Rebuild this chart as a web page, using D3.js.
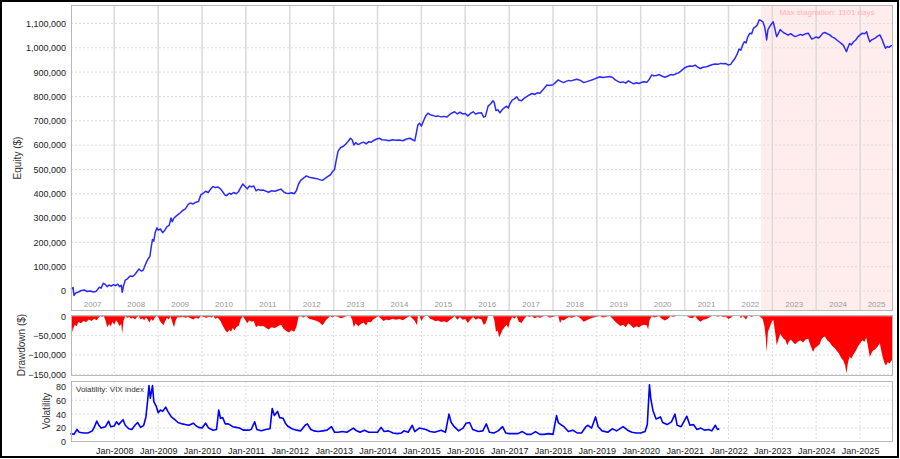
<!DOCTYPE html>
<html><head><meta charset="utf-8">
<script src="https://cdn.jsdelivr.net/npm/d3@7"></script>
<style>
html,body{margin:0;padding:0;background:#fff;}
svg{display:block;font-family:"Liberation Sans",Arial,sans-serif;}
</style></head>
<body><svg id="c" width="900" height="459"></svg>
<script>
// ---------- DATA (time in decimal years, money in thousands of $) ----------
const equityK = [
[2007.01,12],[2007.04,10],[2007.06,14],[2007.08,-18],[2007.12,-8],[2007.18,-4],[2007.25,2],[2007.32,4],[2007.38,-2],[2007.45,0],
[2007.52,-4],[2007.58,-2],[2007.62,6],[2007.66,16],[2007.70,12],[2007.75,32],[2007.80,26],[2007.84,18],[2007.88,25],[2007.93,20],
[2007.98,26],[2008.03,22],[2008.08,28],[2008.12,18],[2008.16,24],[2008.18,-5],[2008.21,20],[2008.25,45],[2008.30,50],[2008.36,62],
[2008.42,60],[2008.47,68],[2008.52,80],[2008.56,90],[2008.62,82],[2008.66,86],[2008.70,105],[2008.74,122],[2008.78,135],[2008.81,142],
[2008.84,180],[2008.87,212],[2008.90,205],[2008.93,240],[2008.97,260],[2009.00,250],[2009.05,255],[2009.10,240],[2009.15,250],[2009.20,265],
[2009.25,270],[2009.29,300],[2009.32,285],[2009.36,300],[2009.42,310],[2009.48,318],[2009.55,330],[2009.62,338],[2009.68,355],[2009.73,362],
[2009.80,358],[2009.86,365],[2009.92,368],[2009.97,395],[2010.03,402],[2010.08,410],[2010.14,405],[2010.20,420],[2010.25,430],[2010.30,425],
[2010.36,428],[2010.42,420],[2010.47,408],[2010.52,395],[2010.56,392],[2010.62,402],[2010.67,398],[2010.72,405],[2010.78,400],[2010.83,408],
[2010.88,425],[2010.93,440],[2010.98,430],[2011.03,420],[2011.08,432],[2011.13,428],[2011.18,432],[2011.23,412],[2011.28,418],[2011.33,414],
[2011.40,415],[2011.46,410],[2011.52,406],[2011.58,412],[2011.66,410],[2011.74,415],[2011.80,419],[2011.86,408],[2011.92,402],[2011.98,401],
[2012.04,404],[2012.10,400],[2012.15,412],[2012.20,440],[2012.25,455],[2012.32,465],[2012.38,473],[2012.44,468],[2012.50,466],[2012.56,464],
[2012.62,462],[2012.68,458],[2012.74,455],[2012.80,462],[2012.86,470],[2012.92,477],[2012.97,490],[2013.02,500],[2013.06,540],[2013.10,575],
[2013.16,590],[2013.22,595],[2013.28,605],[2013.34,618],[2013.38,628],[2013.42,622],[2013.46,600],[2013.50,610],[2013.56,602],[2013.62,608],
[2013.68,612],[2013.74,605],[2013.80,614],[2013.86,612],[2013.92,620],[2013.98,625],[2014.04,628],[2014.10,622],[2014.18,621],[2014.26,618],
[2014.34,622],[2014.42,620],[2014.50,621],[2014.58,618],[2014.66,625],[2014.74,628],[2014.80,622],[2014.85,617],[2014.88,645],[2014.92,683],
[2014.96,690],[2015.00,678],[2015.05,700],[2015.10,720],[2015.15,731],[2015.20,725],[2015.26,722],[2015.32,718],[2015.38,720],[2015.45,716],
[2015.52,718],[2015.58,715],[2015.64,725],[2015.70,732],[2015.76,737],[2015.82,728],[2015.88,735],[2015.94,728],[2016.00,730],[2016.06,720],
[2016.12,730],[2016.18,737],[2016.24,728],[2016.30,732],[2016.37,733],[2016.42,715],[2016.46,718],[2016.52,760],[2016.58,770],[2016.63,782],
[2016.66,775],[2016.70,742],[2016.74,745],[2016.79,733],[2016.84,745],[2016.88,752],[2016.94,760],[2016.98,752],[2017.02,771],[2017.07,785],
[2017.12,790],[2017.17,799],[2017.22,785],[2017.28,782],[2017.34,792],[2017.40,799],[2017.46,806],[2017.52,812],[2017.58,808],[2017.64,815],
[2017.70,813],[2017.76,825],[2017.82,838],[2017.86,847],[2017.92,845],[2018.00,848],[2018.06,858],[2018.12,868],[2018.18,862],[2018.24,857],
[2018.30,862],[2018.36,866],[2018.42,864],[2018.48,868],[2018.54,871],[2018.60,868],[2018.66,862],[2018.70,857],[2018.76,860],[2018.84,865],
[2018.92,870],[2019.00,876],[2019.07,881],[2019.14,878],[2019.22,880],[2019.30,882],[2019.36,878],[2019.42,868],[2019.48,862],[2019.54,857],
[2019.60,860],[2019.66,855],[2019.72,864],[2019.78,858],[2019.84,852],[2019.90,856],[2019.96,853],[2020.02,858],[2020.08,860],[2020.14,858],
[2020.20,872],[2020.25,888],[2020.30,885],[2020.36,886],[2020.42,890],[2020.48,884],[2020.55,879],[2020.62,884],[2020.68,890],[2020.74,888],
[2020.80,893],[2020.86,897],[2020.92,905],[2020.98,915],[2021.05,922],[2021.12,925],[2021.18,924],[2021.24,929],[2021.30,920],[2021.36,915],
[2021.42,920],[2021.50,922],[2021.56,926],[2021.62,930],[2021.69,933],[2021.76,932],[2021.82,936],[2021.88,934],[2021.94,935],[2022.00,929],
[2022.05,932],[2022.10,945],[2022.15,957],[2022.20,975],[2022.24,995],[2022.28,990],[2022.32,1010],[2022.36,1025],[2022.40,1020],[2022.44,1045],
[2022.49,1060],[2022.53,1058],[2022.57,1080],[2022.62,1087],[2022.66,1095],[2022.70,1115],[2022.74,1112],[2022.78,1108],[2022.82,1090],[2022.85,1060],
[2022.87,1032],[2022.90,1075],[2022.94,1087],[2022.98,1098],[2023.02,1107],[2023.05,1085],[2023.08,1060],[2023.10,1046],[2023.14,1060],[2023.18,1075],
[2023.22,1068],[2023.26,1062],[2023.30,1058],[2023.36,1052],[2023.42,1058],[2023.48,1050],[2023.52,1046],[2023.58,1050],[2023.64,1055],[2023.70,1052],
[2023.76,1058],[2023.82,1060],[2023.86,1048],[2023.90,1036],[2023.95,1040],[2024.00,1045],[2024.05,1040],[2024.10,1048],[2024.15,1060],[2024.20,1063],
[2024.25,1058],[2024.31,1053],[2024.36,1045],[2024.42,1040],[2024.47,1032],[2024.52,1025],[2024.57,1018],[2024.62,1010],[2024.66,995],[2024.69,984],
[2024.72,1000],[2024.76,1018],[2024.80,1012],[2024.85,1025],[2024.90,1032],[2024.95,1045],[2025.00,1053],[2025.05,1060],[2025.10,1058],[2025.15,1066],
[2025.18,1045],[2025.22,1025],[2025.26,1032],[2025.30,1036],[2025.34,1040],[2025.40,1048],[2025.45,1053],[2025.50,1035],[2025.54,1015],[2025.58,998],
[2025.62,1005],[2025.66,1002],[2025.70,1008],[2025.75,1011]
];
const drawdownK = [
[2007.01,0],[2007.03,-20],[2007.05,-41],[2007.07,-30],[2007.10,-22],[2007.14,-26],[2007.18,-15],[2007.24,-18],[2007.30,-12],[2007.36,-15],
[2007.42,-8],[2007.48,-12],[2007.54,-6],[2007.60,-10],[2007.64,-4],[2007.68,0],[2007.72,-2],[2007.76,0],[2007.80,-10],[2007.84,-28],
[2007.88,-20],[2007.92,-26],[2007.96,-14],[2008.00,-22],[2008.04,-10],[2008.08,-16],[2008.12,-25],[2008.16,-20],[2008.18,-45],[2008.21,-12],
[2008.25,0],[2008.30,-4],[2008.34,-2],[2008.38,-6],[2008.42,-3],[2008.47,-8],[2008.52,-2],[2008.56,0],[2008.60,-8],[2008.64,-5],
[2008.68,-10],[2008.72,-3],[2008.76,-8],[2008.80,-16],[2008.84,-6],[2008.88,-12],[2008.92,-4],[2008.96,0],[2009.00,-2],[2009.04,-12],
[2009.08,-18],[2009.12,-23],[2009.16,-12],[2009.20,-4],[2009.24,-8],[2009.28,0],[2009.32,-15],[2009.36,-28],[2009.40,-10],[2009.44,-2],
[2009.50,-3],[2009.56,-1],[2009.62,-4],[2009.68,-2],[2009.74,-5],[2009.80,-8],[2009.86,-3],[2009.92,-6],[2009.97,0],[2010.04,-2],
[2010.10,-4],[2010.16,-1],[2010.22,-3],[2010.26,0],[2010.30,-6],[2010.36,-4],[2010.42,-12],[2010.46,-22],[2010.50,-30],[2010.54,-38],
[2010.58,-42],[2010.62,-35],[2010.66,-40],[2010.70,-30],[2010.74,-36],[2010.78,-28],[2010.84,-24],[2010.88,-8],[2010.93,0],[2010.98,-8],
[2011.03,-18],[2011.08,-10],[2011.13,-14],[2011.18,-12],[2011.23,-28],[2011.28,-24],[2011.33,-26],[2011.40,-25],[2011.46,-30],[2011.52,-34],
[2011.58,-28],[2011.66,-30],[2011.74,-25],[2011.80,-22],[2011.86,-32],[2011.92,-38],[2011.98,-42],[2012.04,-36],[2012.10,-40],[2012.15,-28],
[2012.20,-2],[2012.25,0],[2012.30,-3],[2012.38,0],[2012.44,-6],[2012.50,-8],[2012.56,-10],[2012.62,-12],[2012.68,-16],[2012.74,-23],
[2012.78,-18],[2012.82,-10],[2012.88,-4],[2012.92,0],[2012.97,-3],[2013.02,0],[2013.10,-2],[2013.16,-5],[2013.22,-3],[2013.30,0],
[2013.38,0],[2013.42,-8],[2013.46,-28],[2013.50,-18],[2013.56,-26],[2013.62,-20],[2013.68,-16],[2013.74,-24],[2013.78,-14],[2013.84,-16],
[2013.90,-8],[2013.96,-4],[2014.02,0],[2014.08,-6],[2014.14,-12],[2014.20,-8],[2014.26,-10],[2014.34,-6],[2014.42,-9],[2014.50,-7],
[2014.58,-10],[2014.66,-4],[2014.74,0],[2014.80,-6],[2014.85,-12],[2014.90,-23],[2014.92,0],[2014.96,0],[2015.00,-12],[2015.05,-2],
[2015.10,0],[2015.15,0],[2015.20,-6],[2015.26,-9],[2015.32,-13],[2015.38,-11],[2015.45,-15],[2015.52,-13],[2015.58,-16],[2015.64,-10],
[2015.70,-5],[2015.76,0],[2015.82,-9],[2015.88,-2],[2015.94,-9],[2016.00,-7],[2016.06,-17],[2016.12,-8],[2016.18,-2],[2016.24,-9],
[2016.30,-5],[2016.37,-8],[2016.42,-22],[2016.46,-19],[2016.52,0],[2016.58,0],[2016.63,0],[2016.66,-8],[2016.70,-40],[2016.74,-37],
[2016.77,-54],[2016.80,-48],[2016.84,-37],[2016.88,-30],[2016.94,-22],[2016.98,-30],[2017.02,-12],[2017.07,-2],[2017.12,-6],[2017.17,0],
[2017.22,-14],[2017.28,-17],[2017.34,-7],[2017.40,0],[2017.46,-2],[2017.52,0],[2017.58,-5],[2017.64,-2],[2017.70,-4],[2017.76,-1],
[2017.82,0],[2017.86,0],[2017.92,-3],[2018.00,-2],[2018.06,0],[2018.12,0],[2018.16,-18],[2018.20,-8],[2018.24,-11],[2018.30,-6],
[2018.36,-2],[2018.42,-4],[2018.48,-2],[2018.54,0],[2018.60,-3],[2018.66,-9],[2018.70,-14],[2018.76,-11],[2018.84,-6],[2018.92,-3],
[2019.00,-1],[2019.07,0],[2019.14,-3],[2019.22,-1],[2019.30,0],[2019.36,-6],[2019.42,-14],[2019.48,-20],[2019.54,-25],[2019.60,-22],
[2019.66,-28],[2019.72,-18],[2019.78,-24],[2019.84,-30],[2019.90,-26],[2019.96,-29],[2020.02,-24],[2020.08,-22],[2020.14,-24],[2020.17,-34],
[2020.20,-10],[2020.25,0],[2020.30,-3],[2020.36,-2],[2020.42,0],[2020.48,-6],[2020.55,-11],[2020.62,-6],[2020.68,0],[2020.74,-2],
[2020.80,0],[2020.86,0],[2020.92,0],[2020.98,0],[2021.05,0],[2021.12,-4],[2021.18,-5],[2021.24,0],[2021.30,-9],[2021.36,-14],
[2021.42,-9],[2021.50,-7],[2021.56,-3],[2021.62,0],[2021.69,0],[2021.76,-1],[2021.82,0],[2021.88,-2],[2021.94,-1],[2022.00,-7],
[2022.05,-4],[2022.10,0],[2022.15,0],[2022.20,0],[2022.26,0],[2022.28,-5],[2022.32,0],[2022.36,-3],[2022.40,-8],[2022.44,0],
[2022.49,0],[2022.53,-2],[2022.57,0],[2022.62,0],[2022.66,0],[2022.70,0],[2022.74,-3],[2022.78,-7],[2022.82,-25],[2022.85,-55],
[2022.87,-92],[2022.90,-40],[2022.94,-28],[2022.98,-16],[2023.02,-8],[2023.05,-30],[2023.08,-55],[2023.10,-75],[2023.14,-60],[2023.18,-45],
[2023.22,-52],[2023.26,-58],[2023.30,-62],[2023.34,-75],[2023.38,-65],[2023.42,-60],[2023.48,-68],[2023.52,-72],[2023.58,-66],[2023.64,-62],
[2023.70,-68],[2023.76,-60],[2023.82,-58],[2023.86,-72],[2023.90,-84],[2023.93,-92],[2023.97,-82],[2024.02,-78],[2024.08,-72],[2024.12,-60],
[2024.16,-54],[2024.20,-52],[2024.25,-62],[2024.31,-68],[2024.36,-76],[2024.42,-82],[2024.47,-90],[2024.52,-96],[2024.57,-108],[2024.62,-115],
[2024.66,-127],[2024.69,-147],[2024.72,-122],[2024.76,-104],[2024.80,-110],[2024.85,-98],[2024.90,-90],[2024.95,-78],[2025.00,-70],[2025.05,-62],
[2025.10,-66],[2025.14,-55],[2025.18,-78],[2025.22,-105],[2025.26,-95],[2025.30,-88],[2025.34,-86],[2025.40,-78],[2025.45,-70],[2025.48,-88],
[2025.52,-108],[2025.56,-122],[2025.59,-127],[2025.63,-118],[2025.67,-122],[2025.71,-115],[2025.75,-112]
];
const vix = [
[2007.00,12],[2007.08,11],[2007.15,18],[2007.20,14],[2007.30,13],[2007.40,13],[2007.50,16],[2007.55,22],[2007.60,30],[2007.65,24],
[2007.70,20],[2007.80,22],[2007.87,30],[2007.92,22],[2008.00,23],[2008.05,29],[2008.10,25],[2008.20,32],[2008.25,24],[2008.33,19],
[2008.40,18],[2008.47,24],[2008.53,28],[2008.60,21],[2008.67,24],[2008.72,36],[2008.76,60],[2008.79,81],[2008.82,63],[2008.87,81],
[2008.90,58],[2008.95,52],[2009.00,42],[2009.05,46],[2009.10,44],[2009.17,50],[2009.22,44],[2009.30,36],[2009.38,32],[2009.45,28],
[2009.55,26],[2009.62,25],[2009.70,24],[2009.80,27],[2009.85,24],[2009.92,21],[2010.00,20],[2010.08,27],[2010.15,20],[2010.25,17],
[2010.33,18],[2010.38,46],[2010.42,34],[2010.47,35],[2010.53,26],[2010.60,26],[2010.70,22],[2010.78,21],[2010.85,20],[2010.95,17],
[2011.05,17],[2011.12,18],[2011.20,29],[2011.25,18],[2011.35,16],[2011.45,18],[2011.55,19],[2011.60,48],[2011.65,38],[2011.72,44],
[2011.77,35],[2011.85,34],[2011.90,27],[2011.95,23],[2012.05,19],[2012.15,17],[2012.25,16],[2012.35,24],[2012.40,26],[2012.48,18],
[2012.55,16],[2012.65,15],[2012.75,16],[2012.85,17],[2012.95,22],[2013.02,14],[2013.10,14],[2013.20,15],[2013.30,14],[2013.45,20],
[2013.50,17],[2013.60,14],[2013.70,17],[2013.80,14],[2013.90,14],[2014.00,14],[2014.08,21],[2014.15,15],[2014.25,16],[2014.35,13],
[2014.45,12],[2014.55,13],[2014.60,16],[2014.70,14],[2014.79,24],[2014.85,15],[2014.95,20],[2015.03,19],[2015.10,18],[2015.20,15],
[2015.30,14],[2015.45,17],[2015.55,14],[2015.63,40],[2015.68,28],[2015.75,22],[2015.85,16],[2015.95,20],[2016.02,27],[2016.10,28],
[2016.17,18],[2016.30,15],[2016.40,16],[2016.48,26],[2016.55,14],[2016.65,13],[2016.75,16],[2016.85,22],[2016.92,13],[2017.00,12],
[2017.10,12],[2017.20,12],[2017.30,15],[2017.40,11],[2017.50,11],[2017.60,15],[2017.70,11],[2017.80,11],[2017.90,12],[2018.00,11],
[2018.08,38],[2018.12,28],[2018.20,24],[2018.25,22],[2018.35,15],[2018.45,17],[2018.55,13],[2018.65,13],[2018.75,22],[2018.80,24],
[2018.88,20],[2018.97,36],[2019.03,22],[2019.12,16],[2019.25,14],[2019.35,19],[2019.45,16],[2019.60,22],[2019.70,17],[2019.80,14],
[2019.90,13],[2020.00,13],[2020.10,15],[2020.15,25],[2020.20,82],[2020.23,62],[2020.28,45],[2020.35,33],[2020.45,36],[2020.50,28],
[2020.60,25],[2020.70,29],[2020.78,40],[2020.83,24],[2020.92,22],[2021.05,37],[2021.12,24],[2021.20,25],[2021.28,18],[2021.37,20],
[2021.45,17],[2021.55,18],[2021.62,16],[2021.70,24],[2021.75,18],[2021.79,19]
];
const equityTicks = [0,100000,200000,300000,400000,500000,600000,700000,800000,900000,1000000,1100000];
const drawdownTicks = [0,-50000,-100000,-150000];
const vixTicks = [0,20,40,60,80];
const years = d3.range(2007, 2026);
const stagnation = {start: 2022.74, end: 2025.75, label: "Max stagnation: 1101 days"};
const vixLabel = "Volatility: VIX index";

// ---------- helpers ----------
function yd(t){const y=Math.floor(t);const a=Date.UTC(y,0,1),b=Date.UTC(y+1,0,1);return new Date(a+(t-y)*(b-a));}

const svg = d3.select("#c");
svg.append("rect").attr("x",0).attr("y",0).attr("width",900).attr("height",459).attr("fill","#fff");

const L=71, R=893;
const x = d3.scaleUtc().domain([yd(2007.013), yd(2025.75)]).range([L, R]);
const P1={t:5,b:311}, P2={t:315,b:376}, P3={t:381,b:442};
const yE = d3.scaleLinear().domain([-82200, 1176000]).range([P1.b, P1.t]);
const yD = d3.scaleLinear().domain([-154400, 3400]).range([P2.b, P2.t]);
const yV = d3.scaleLinear().domain([0, 87.6]).range([P3.b, P3.t]);
const fmt = d3.format(",");
const gridCol="#dcdcdc", borderCol="#b8b8b8", txt="#222";

// ---------- Panel 1: equity ----------
const g1 = svg.append("g");
g1.append("rect").attr("x",x(yd(stagnation.start))).attr("y",P1.t)
  .attr("width",x(yd(stagnation.end))-x(yd(stagnation.start))).attr("height",P1.b-P1.t).attr("fill","#ffeded");
g1.selectAll("line.hg").data(equityTicks).join("line").attr("class","hg")
  .attr("x1",L).attr("x2",R).attr("y1",d=>yE(d)).attr("y2",d=>yE(d))
  .attr("stroke",gridCol).attr("stroke-dasharray","2,2");
g1.selectAll("line.vg").data(years.slice(1)).join("line").attr("class","vg")
  .attr("x1",d=>x(yd(d))).attr("x2",d=>x(yd(d))).attr("y1",P1.t).attr("y2",P1.b)
  .attr("stroke","#dadada").attr("stroke-width",1.5);
g1.selectAll("text.yr").data(years).join("text").attr("class","yr")
  .attr("x",d=>{const a=Math.max(L,x(yd(d))),b=Math.min(R,x(yd(d+1)));return (a+b)/2;})
  .attr("y",307).attr("text-anchor","middle").attr("font-size",8).attr("fill","#999").text(d=>d);
g1.append("text").attr("x",(x(yd(stagnation.start))+R)/2).attr("y",15).attr("text-anchor","middle")
  .attr("font-size",8).attr("fill","#ffb3b3").text(stagnation.label);
g1.append("path").datum(equityK)
  .attr("d",d3.line().x(d=>x(yd(d[0]))).y(d=>yE(d[1]*1000)))
  .attr("fill","none").attr("stroke","#2a2aff").attr("stroke-width",1.5).attr("stroke-linejoin","round");
g1.append("rect").attr("x",L+0.5).attr("y",P1.t+0.5).attr("width",R-L-1).attr("height",P1.b-P1.t-1)
  .attr("fill","none").attr("stroke",borderCol);
const a1 = g1.append("g").attr("transform",`translate(${L},0)`)
  .call(d3.axisLeft(yE).tickValues(equityTicks).tickFormat(fmt).tickSize(0).tickPadding(5));
a1.select(".domain").remove();
a1.selectAll("text").attr("font-size",9).attr("fill",txt).attr("font-family","Liberation Sans, Arial, sans-serif");

// ---------- Panel 2: drawdown ----------
const g2 = svg.append("g");
g2.selectAll("line.hg").data(drawdownTicks.slice(1)).join("line").attr("class","hg")
  .attr("x1",L).attr("x2",R).attr("y1",d=>yD(d)).attr("y2",d=>yD(d))
  .attr("stroke",gridCol).attr("stroke-dasharray","2,2");
g2.selectAll("line.vg").data(years.slice(1)).join("line").attr("class","vg")
  .attr("x1",d=>x(yd(d))).attr("x2",d=>x(yd(d))).attr("y1",P2.t).attr("y2",P2.b)
  .attr("stroke",gridCol).attr("stroke-dasharray","2,2");
g2.append("path").datum(drawdownK)
  .attr("d",d3.area().x(d=>x(yd(d[0]))).y0(yD(0)).y1(d=>yD(d[1]*1000)))
  .attr("fill","#ff0000");
g2.append("rect").attr("x",L+0.5).attr("y",P2.t+0.5).attr("width",R-L-1).attr("height",P2.b-P2.t-1)
  .attr("fill","none").attr("stroke",borderCol);
const a2 = g2.append("g").attr("transform",`translate(${L},0)`)
  .call(d3.axisLeft(yD).tickValues(drawdownTicks).tickFormat(fmt).tickSize(0).tickPadding(5));
a2.select(".domain").remove();
a2.selectAll("text").attr("font-size",9).attr("fill",txt).attr("font-family","Liberation Sans, Arial, sans-serif");

// ---------- Panel 3: volatility ----------
const g3 = svg.append("g");
g3.selectAll("line.hg").data(vixTicks.slice(1)).join("line").attr("class","hg")
  .attr("x1",L).attr("x2",R).attr("y1",d=>yV(d)).attr("y2",d=>yV(d))
  .attr("stroke",gridCol).attr("stroke-dasharray","2,2");
g3.selectAll("line.vg").data(years.slice(1)).join("line").attr("class","vg")
  .attr("x1",d=>x(yd(d))).attr("x2",d=>x(yd(d))).attr("y1",P3.t).attr("y2",P3.b)
  .attr("stroke",gridCol).attr("stroke-dasharray","2,2");
g3.append("path").datum(vix)
  .attr("d",d3.line().x(d=>x(yd(d[0]))).y(d=>yV(d[1])))
  .attr("fill","none").attr("stroke","#0000ff").attr("stroke-width",1.6).attr("stroke-linejoin","round");
g3.append("rect").attr("x",L+0.5).attr("y",P3.t+0.5).attr("width",R-L-1).attr("height",P3.b-P3.t-1)
  .attr("fill","none").attr("stroke",borderCol);
g3.append("text").attr("x",76).attr("y",392).attr("font-size",8).attr("fill","#333").text(vixLabel);
const a3 = g3.append("g").attr("transform",`translate(${L},0)`)
  .call(d3.axisLeft(yV).tickValues(vixTicks).tickSize(0).tickPadding(5));
a3.select(".domain").remove();
a3.selectAll("text").attr("font-size",9).attr("fill",txt).attr("font-family","Liberation Sans, Arial, sans-serif");
const ax = g3.append("g").attr("transform",`translate(0,${P3.b+2})`)
  .call(d3.axisBottom(x).tickValues(years.slice(1).map(yd)).tickFormat(d3.utcFormat("Jan-%Y")).tickSize(0).tickPadding(4));
ax.select(".domain").remove();
ax.selectAll("text").attr("font-size",9).attr("fill",txt).attr("font-family","Liberation Sans, Arial, sans-serif");

// ---------- axis titles ----------
function vtitle(t,cx,cy){svg.append("text").attr("transform",`translate(${cx},${cy}) rotate(-90)`)
  .attr("text-anchor","middle").attr("font-size",10).attr("fill","#333").text(t);}
vtitle("Equity ($)",21,158);
vtitle("Drawdown ($)",25,345);
vtitle("Volatility",50,411);

// outer frame
svg.append("rect").attr("x",1).attr("y",1).attr("width",897).attr("height",456)
  .attr("fill","none").attr("stroke","#000").attr("stroke-width",2);
</script></body></html>
